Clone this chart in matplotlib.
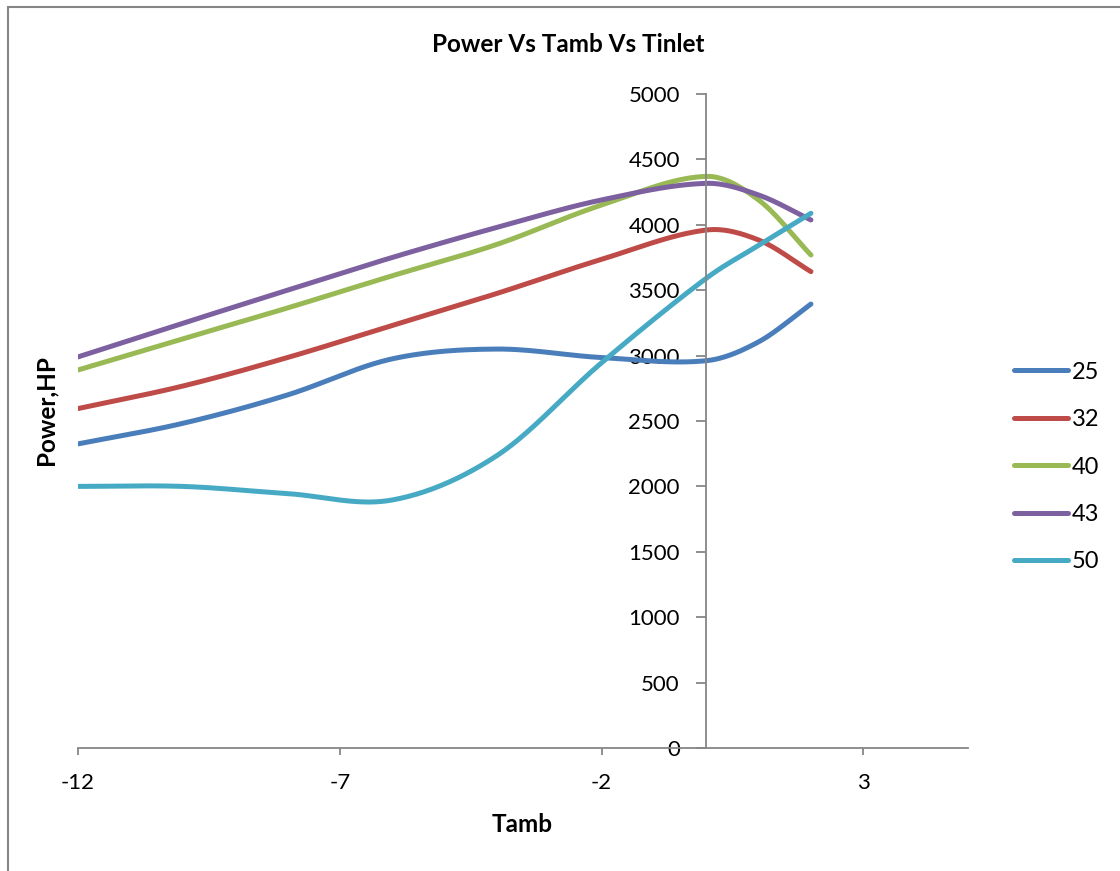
import numpy as np
import matplotlib
matplotlib.use("Agg")
import matplotlib.pyplot as plt
from matplotlib.patches import Rectangle

plt.rcParams['font.family'] = ['Lato', 'DejaVu Sans']
plt.rcParams['axes.unicode_minus'] = False

# ambient temperature and power for each inlet temperature
tamb = [-12, -10, -8, -6, -4, -2, 0, 1, 2]
p25 = [2325, 2482, 2699, 2975, 3050, 2985, 2961, 3105, 3394]
p32 = [2595, 2767, 2985, 3230, 3475, 3736, 3960, 3884, 3642]
p40 = [2890, 3128, 3364, 3610, 3850, 4151, 4370, 4190, 3769]
p43 = [2990, 3247, 3500, 3750, 3980, 4190, 4317, 4228, 4037]
p50 = [2000, 2000, 1945, 1896, 2235, 2945, 3591, 3843, 4088]
labels = ['25', '32', '40', '43', '50']
colors = ['#4A7EBB', '#BE4B48', '#98B954', '#7D60A0', '#46AAC5']


def smooth(xs, ys, n=40):
    # smoothed line: cubic hermite pieces, centred-difference slopes
    x = np.asarray(xs, float)
    y = np.asarray(ys, float)
    m = np.empty_like(y)
    m[1:-1] = (y[2:] - y[:-2]) / (x[2:] - x[:-2])
    m[0] = (y[1] - y[0]) / (x[1] - x[0])
    m[-1] = (y[-1] - y[-2]) / (x[-1] - x[-2])
    px, py = [], []
    t = np.linspace(0, 1, n)
    for i in range(len(x) - 1):
        h = x[i + 1] - x[i]
        h00 = 2*t**3 - 3*t**2 + 1
        h10 = t**3 - 2*t**2 + t
        h01 = -2*t**3 + 3*t**2
        h11 = t**3 - t**2
        seg = h00*y[i] + h10*h*m[i] + h01*y[i + 1] + h11*h*m[i + 1]
        sl = slice(0 if i == 0 else 1, None)
        px.append((x[i] + t*h)[sl])
        py.append(seg[sl])
    return np.concatenate(px), np.concatenate(py)


fig = plt.figure(figsize=(11.2, 8.71), dpi=100)
ax = fig.add_axes([78/1120, 1 - 748/871, 890/1120, 654/871])

for ys, lab, col in zip([p25, p32, p40, p43, p50], labels, colors):
    sx, sy = smooth(tamb, ys)
    ax.plot(sx, sy, color=col, lw=3.6, label=lab, solid_capstyle='round')

ax.set_xlim(-12, 5)
ax.set_ylim(0, 5000)
ax.set_xticks([-12, -7, -2, 3])
ax.set_yticks(np.arange(0, 5001, 500))

axis_col = '#868686'
ax.spines['left'].set_position(('data', 0))
for s in ['top', 'right']:
    ax.spines[s].set_visible(False)
for s in ['left', 'bottom']:
    ax.spines[s].set_color(axis_col)
    ax.spines[s].set_linewidth(1.3)
ax.tick_params(axis='y', direction='out', length=7, width=1.3, color=axis_col,
               pad=12, labelsize=16)
ax.tick_params(axis='x', direction='out', length=5, width=1.3, color=axis_col,
               pad=13, labelsize=16)

fig.text(568/1120, 1 - 44/871, 'Power Vs Tamb Vs Tinlet', ha='center',
         va='center', fontsize=17.5, fontweight='bold')
fig.text(522/1120, 1 - 824/871, 'Tamb', ha='center', va='center',
         fontsize=17.5, fontweight='bold')
fig.text(46/1120, 1 - 410/871, 'Power,HP', ha='center', va='center',
         rotation=90, fontsize=17.5, fontweight='bold')

ax.legend(loc='center left', bbox_to_anchor=(1014/1120, 1 - 467/871),
          bbox_transform=fig.transFigure, frameon=False, fontsize=17,
          handlelength=2.3, handletextpad=0.15, labelspacing=1.12,
          borderpad=0, borderaxespad=0)

fig.patches.append(Rectangle((8/1120, -0.1), 1.2, 1.1 - 7/871,
                             transform=fig.transFigure, fill=False,
                             edgecolor=axis_col, lw=1.5))

fig.savefig('out.png', dpi=100)
